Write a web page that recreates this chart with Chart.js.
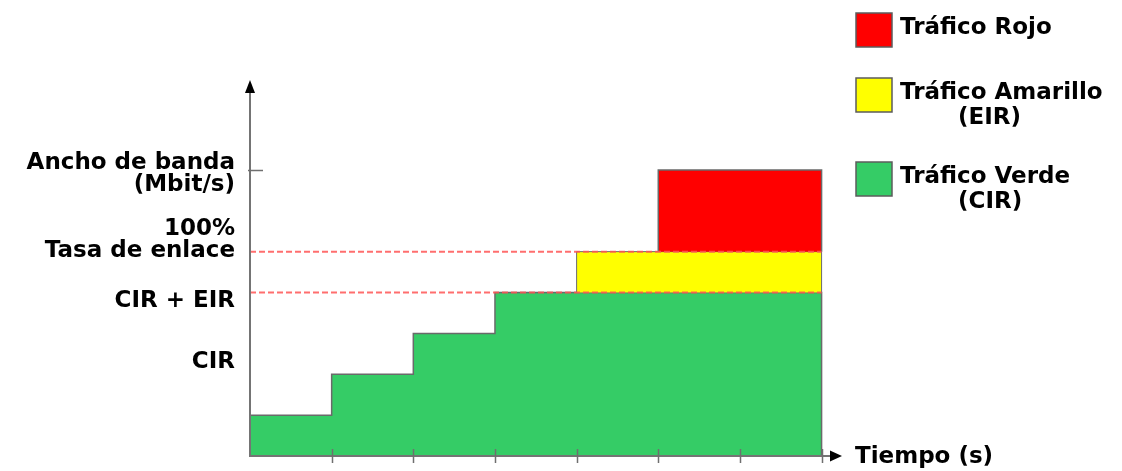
<!DOCTYPE html>
<html>
<head>
<meta charset="utf-8">
<script src="https://cdn.jsdelivr.net/npm/chart.js@4.4.1/dist/chart.umd.min.js"></script>
<style>
  html, body { margin: 0; padding: 0; background: #ffffff; }
  #wrap { width: 1122px; height: 471px; position: relative; }
</style>
</head>
<body>
<div id="wrap"><canvas id="grafico" width="1122" height="471"></canvas></div>
<script>
// Interval edges on the time axis (s)
const tiempo = [0, 1, 2, 3, 4, 5, 6, 7];
// Bandwidth carried in each interval, by traffic class
const verde    = [1, 2, 3, 4, 4, 4, 4];
const amarillo = [0, 0, 0, 0, 1, 1, 1];
const rojo     = [0, 0, 0, 0, 0, 2, 2];
// Reference levels: CIR + EIR and the link rate (100%)
const nivelesRef = [4, 5];
// Left-side labels and where they sit on the bandwidth axis
const yTickValores = [2.3, 3.8, 5.28, 6.9];
const yTickTextos = [['CIR'], ['CIR + EIR'], ['100%', 'Tasa de enlace'], ['Ancho de banda', '(Mbit/s)']];
const yMarca = 7;
const xMarcas = [1, 2, 3, 4, 5, 6, 7];
const xTitulo = 'Tiempo (s)';
const nombres = [['Tráfico Verde', '(CIR)'], ['Tráfico Amarillo', '(EIR)'], ['Tráfico Rojo']];
const colores = ['#35cc66', '#ffff00', '#ff0000'];

const FUENTE = 'bold 23px "DejaVu Sans", Verdana, sans-serif';

// Base of each class = sum of the classes stacked beneath it
const base0 = verde.map(() => 0);
const baseAmarillo = verde.slice();
const baseRojo = verde.map((v, i) => v + amarillo[i]);

// Closed stepped outline of one stacked layer (only where it is non-zero)
function capa(valores, base) {
  const pts = [];
  let ultimo = -1;
  valores.forEach((v, i) => {
    if (v <= 0) return;
    if (ultimo < 0) pts.push({ x: tiempo[i], y: base[i] });
    pts.push({ x: tiempo[i], y: base[i] + v });
    ultimo = i;
  });
  pts.push({ x: tiempo[ultimo + 1], y: base[ultimo] + valores[ultimo] });
  pts.push({ x: tiempo[ultimo + 1], y: base[ultimo] });
  return pts;
}
function baseDe(valores, base) {
  const i = valores.findIndex(v => v > 0);
  return base[i];
}

const contorno = '#6a6a6a';
const datasets = [
  {
    label: nombres[0].join(' '), data: capa(verde, base0),
    backgroundColor: colores[0], borderColor: contorno, borderWidth: 1.5,
    fill: 'origin', stepped: true, pointRadius: 0, order: 3
  },
  {
    label: nombres[1].join(' '), data: capa(amarillo, baseAmarillo),
    backgroundColor: colores[1], borderColor: contorno, borderWidth: 1,
    fill: { value: baseDe(amarillo, baseAmarillo) }, stepped: true, pointRadius: 0, order: 2
  },
  {
    label: nombres[2].join(' '), data: capa(rojo, baseRojo),
    backgroundColor: colores[2], borderColor: contorno, borderWidth: 1.5,
    fill: { value: baseDe(rojo, baseRojo) }, stepped: true, pointRadius: 0, order: 1
  }
];
nivelesRef.forEach(n => {
  datasets.push({
    label: 'ref' + n,
    data: [{ x: tiempo[0], y: n }, { x: tiempo[tiempo.length - 1], y: n }],
    borderColor: 'rgba(255, 85, 85, 0.85)', borderWidth: 2, borderDash: [6, 3],
    fill: false, pointRadius: 0, order: 0
  });
});

// Axes with arrowheads, tick marks, side labels and the legend
const ejes = {
  id: 'ejes',
  afterDraw(chart) {
    const { ctx, chartArea: a, scales: { x, y } } = chart;
    const x0 = x.getPixelForValue(0);
    const y0 = y.getPixelForValue(0);
    ctx.save();

    // axis lines
    ctx.strokeStyle = '#747474';
    ctx.lineWidth = 2;
    ctx.beginPath();
    ctx.moveTo(x0, y0 + 1);
    ctx.lineTo(x0, a.top + 10);
    ctx.moveTo(x0 - 1, y0);
    ctx.lineTo(a.right - 10, y0);
    ctx.stroke();

    // arrowheads
    ctx.fillStyle = '#000000';
    ctx.beginPath();
    ctx.moveTo(x0, a.top);
    ctx.lineTo(x0 - 5, a.top + 13);
    ctx.lineTo(x0 + 5, a.top + 13);
    ctx.closePath();
    ctx.fill();
    ctx.beginPath();
    ctx.moveTo(a.right, y0);
    ctx.lineTo(a.right - 12, y0 - 5.5);
    ctx.lineTo(a.right - 12, y0 + 5.5);
    ctx.closePath();
    ctx.fill();

    // tick marks
    ctx.strokeStyle = '#6f6f6f';
    ctx.lineWidth = 1.5;
    ctx.beginPath();
    xMarcas.forEach(v => {
      const px = Math.round(x.getPixelForValue(v)) + 0.5;
      ctx.moveTo(px, y0 - 7);
      ctx.lineTo(px, y0 + 7);
    });
    const py = Math.round(y.getPixelForValue(yMarca)) + 0.5;
    ctx.moveTo(x0 - 2, py);
    ctx.lineTo(x0 + 13, py);
    ctx.stroke();

    // bandwidth-axis labels
    ctx.font = FUENTE;
    ctx.fillStyle = '#000000';
    ctx.textAlign = 'right';
    ctx.textBaseline = 'middle';
    const lh = 22;
    yTickValores.forEach((v, i) => {
      const lineas = yTickTextos[i];
      const cy = y.getPixelForValue(v) - (lineas.length - 1) * lh / 2;
      lineas.forEach((t, k) => ctx.fillText(t, x0 - 15, cy + k * lh));
    });

    // time-axis title
    ctx.textAlign = 'left';
    ctx.fillText(xTitulo, a.right + 13, y0 + 1);

    // legend, top entry = top of the stack
    const orden = [2, 1, 0];
    let ly = 13;
    const lx = 856;
    orden.forEach(i => {
      ctx.fillStyle = colores[i];
      ctx.strokeStyle = '#5c5c5c';
      ctx.lineWidth = 1.5;
      ctx.beginPath();
      ctx.rect(lx, ly, 36, 34);
      ctx.fill();
      ctx.stroke();
      ctx.fillStyle = '#000000';
      ctx.textAlign = 'left';
      const lineas = nombres[i];
      ctx.fillText(lineas[0], lx + 44, ly + 15);
      if (lineas[1]) ctx.fillText(lineas[1], lx + 102, ly + 40);
      ly += 65 + (lineas.length - 1) * 19;
    });
    ctx.restore();
  }
};

new Chart(document.getElementById('grafico'), {
  type: 'line',
  data: { datasets },
  options: {
    responsive: false,
    animation: false,
    layout: { padding: { left: 250, right: 280, top: 80, bottom: 15 } },
    scales: {
      x: { type: 'linear', min: 0, max: 7.25, display: false },
      y: { type: 'linear', min: 0, max: 9.2, display: false }
    },
    plugins: { legend: { display: false }, tooltip: { enabled: false } }
  },
  plugins: [ejes]
});
</script>
</body>
</html>
